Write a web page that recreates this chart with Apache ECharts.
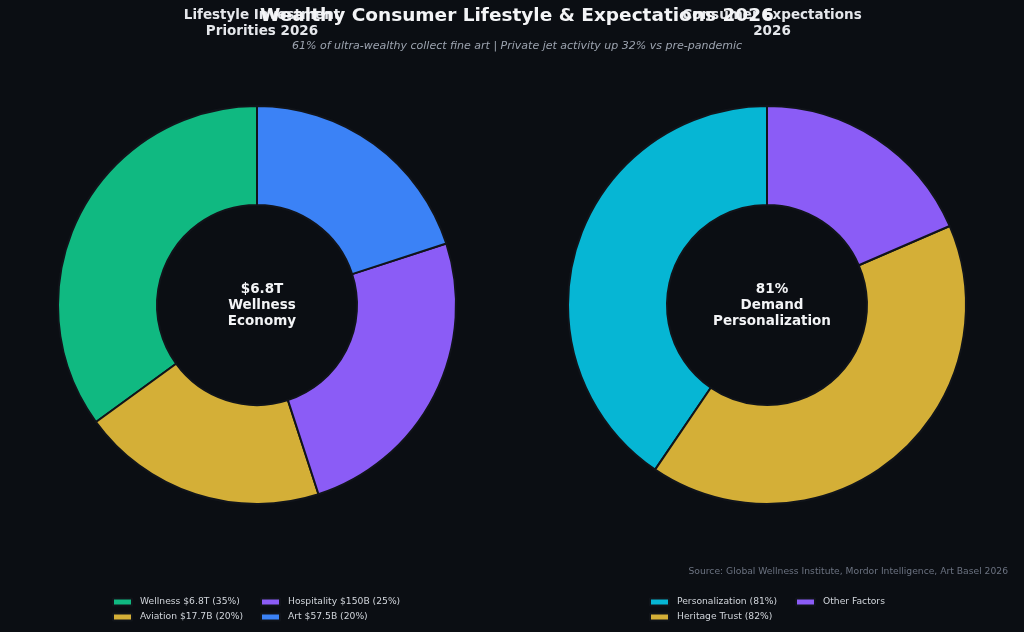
<!DOCTYPE html>
<html>
<head>
<meta charset="utf-8">
<script src="https://cdn.jsdelivr.net/npm/echarts@6/dist/echarts.min.js"></script>
<style>
  html, body { margin: 0; padding: 0; background: #0b0e13; }
  #chart { width: 1024px; height: 632px; }
</style>
</head>
<body>
<div id="chart"></div>
<script>
// 左边：生活方式投资
const lifestyleNames = ['Wellness $6.8T (35%)', 'Aviation $17.7B (20%)', 'Hospitality $150B (25%)', 'Art $57.5B (20%)'];
const lifestyleValues = [35, 20, 25, 20];
const lifestyleColors = ['#10b981', '#d4af37', '#8b5cf6', '#3b82f6'];

// 右边：消费者期望
const expectNames = ['Personalization (81%)', 'Heritage Trust (82%)', 'Other Factors'];
const expectValues = [81, 82, 37];
const expectColors = ['#06b6d4', '#d4af37', '#8b5cf6'];

const chart = echarts.init(document.getElementById('chart'));
const font = 'DejaVu Sans';
const bg = '#0b0e13';

function pieSeries(names, values, colors, cx) {
    return {
        type: 'pie',
        center: [cx, 305],
        radius: [100, 199],
        startAngle: 90,
        clockwise: false,
        silent: true,
        label: { show: false },
        labelLine: { show: false },
        itemStyle: { borderColor: '#11141a', borderWidth: 2 },
        data: names.map((n, i) => ({ name: n, value: values[i], itemStyle: { color: colors[i] } }))
    };
}

function legendCol(names, left) {
    return {
        orient: 'vertical',
        left: left,
        top: 591,
        data: names,
        icon: 'rect',
        itemWidth: 19,
        itemHeight: 7,
        itemGap: 3,
        selectedMode: false,
        textStyle: { color: '#d1d5db', fontFamily: font, fontSize: 9.2, lineHeight: 12, padding: [0, 0, 0, 3] }
    };
}

chart.setOption({
    backgroundColor: bg,
    animation: false,
    title: [
        {
            text: 'Lifestyle Investment\nPriorities 2026', left: 257, top: 2, textAlign: 'center',
            textStyle: { color: '#e5e7eb', fontFamily: font, fontSize: 13.5, fontWeight: 'bold', lineHeight: 16 }
        },
        {
            text: 'Consumer Expectations\n2026', left: 767, top: 2, textAlign: 'center',
            textStyle: { color: '#e5e7eb', fontFamily: font, fontSize: 13.5, fontWeight: 'bold', lineHeight: 16 }
        },
        {
            text: 'Wealthy Consumer Lifestyle & Expectations 2026', left: 512, top: 2, textAlign: 'center',
            textStyle: { color: '#f3f4f6', fontFamily: font, fontSize: 18.5, fontWeight: 'bold' }
        },
        {
            text: '61% of ultra-wealthy collect fine art | Private jet activity up 32% vs pre-pandemic',
            left: 512, top: 36, textAlign: 'center',
            textStyle: { color: '#9ca3af', fontFamily: font, fontSize: 11, fontStyle: 'italic', fontWeight: 'normal' }
        },
        {
            text: '$6.8T\nWellness\nEconomy', left: 257, top: 276, textAlign: 'center',
            textStyle: { color: '#f3f4f6', fontFamily: font, fontSize: 13.5, fontWeight: 'bold', lineHeight: 16 }
        },
        {
            text: '81%\nDemand\nPersonalization', left: 767, top: 276, textAlign: 'center',
            textStyle: { color: '#f3f4f6', fontFamily: font, fontSize: 13.5, fontWeight: 'bold', lineHeight: 16 }
        },
        {
            text: 'Source: Global Wellness Institute, Mordor Intelligence, Art Basel 2026',
            right: 11, top: 562,
            textStyle: { color: '#6b7280', fontFamily: font, fontSize: 9.2, fontWeight: 'normal' }
        }
    ],
    legend: [
        legendCol([lifestyleNames[0], lifestyleNames[1]], 107),
        legendCol([lifestyleNames[2], lifestyleNames[3]], 255),
        legendCol([expectNames[0], expectNames[1]], 644),
        legendCol([expectNames[2]], 790)
    ],
    series: [
        pieSeries(lifestyleNames, lifestyleValues, lifestyleColors, 257),
        pieSeries(expectNames, expectValues, expectColors, 767)
    ]
});
</script>
</body>
</html>
